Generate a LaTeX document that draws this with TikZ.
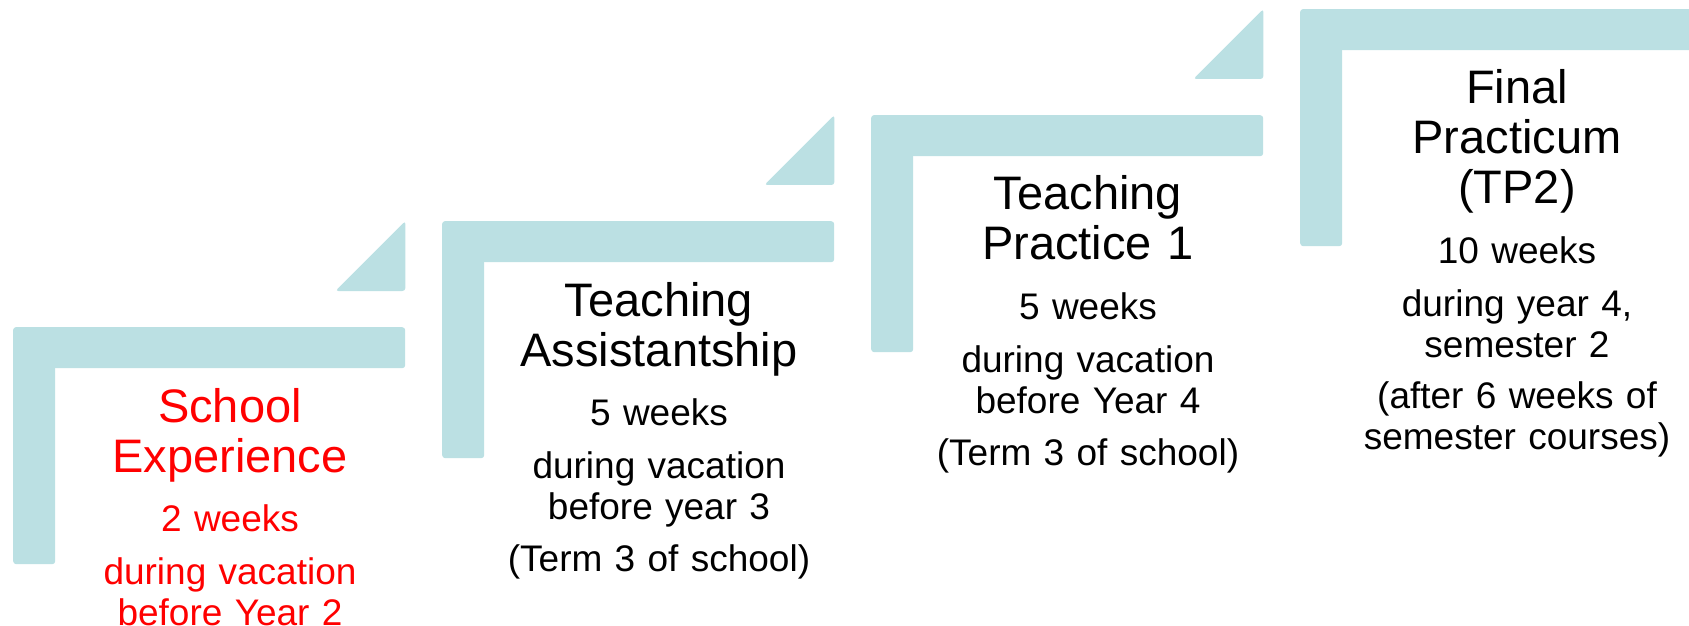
\documentclass[tikz,border=0pt]{standalone}
\usepackage{fontspec}
\setmainfont{Liberation Sans}
\usepackage{tikz}
\definecolor{steplight}{RGB}{187,224,227}

\begin{document}
\begin{tikzpicture}
			[x=1pt, y=1pt, inner sep=0pt,
			topbar/.style	= {fill=steplight, rounded corners=3pt, anchor=north west, minimum width=392pt, minimum height=41pt},
			sidebar/.style	= {fill=steplight, rounded corners=3pt, anchor=north west, minimum width=42pt, minimum height=237pt},
			ramp/.style		= {fill=steplight, rounded corners=3pt},
			heading/.style	= {anchor=base, text width=350pt, align=center, font=\fontsize{47}{50}\selectfont},
			detail/.style	= {anchor=base, text width=350pt, align=center, font=\fontsize{37}{41}\selectfont}]

			\useasboundingbox (0,0) rectangle (1689,625);

			\coordinate (s1) at (13,298);
			\coordinate (s2) at (442,404);
			\coordinate (s3) at (871,510);
			\coordinate (s4) at (1300,616);

			% the four steps
			\node [topbar]	at (s1)	(top1)	{};
			\node [sidebar]	at (s1)	(side1)	{};
			\node [topbar]	at (s2)	(top2)	{};
			\node [sidebar]	at (s2)	(side2)	{};
			\node [topbar]	at (s3)	(top3)	{};
			\node [sidebar]	at (s3)	(side3)	{};
			\node [topbar]	at (s4)	(top4)	{};
			\node [sidebar]	at (s4)	(side4)	{};

			\fill [ramp] ([yshift=36pt]top1.north east) -- ([yshift=106pt]top1.north east) -- ([shift={(-70pt,36pt)}]top1.north east) -- cycle;
			\fill [ramp] ([yshift=36pt]top2.north east) -- ([yshift=106pt]top2.north east) -- ([shift={(-70pt,36pt)}]top2.north east) -- cycle;
			\fill [ramp] ([yshift=36pt]top3.north east) -- ([yshift=106pt]top3.north east) -- ([shift={(-70pt,36pt)}]top3.north east) -- cycle;

			% texts
			\node [heading, red]	at ([shift={(217,-95)}]s1)	(school)		{School\\Experience};
			\node [detail, red]		at ([shift={(217,-204)}]s1)	(schoolwk)		{2 weeks};
			\node [detail, red]		at ([shift={(217,-257)}]s1)	(schoolwhen)	{during vacation\\before Year 2};

			\node [heading]	at ([shift={(217,-95)}]s2)	(assist)		{Teaching\\Assistantship};
			\node [detail]	at ([shift={(217,-204)}]s2)	(assistwk)		{5 weeks};
			\node [detail]	at ([shift={(217,-257)}]s2)	(assistwhen)	{during vacation\\before year 3};
			\node [detail]	at ([shift={(217,-350)}]s2)	(assistterm)	{(Term 3 of school)};

			\node [heading]	at ([shift={(217,-95)}]s3)	(tp1)		{Teaching\\Practice 1};
			\node [detail]	at ([shift={(217,-204)}]s3)	(tp1wk)		{5 weeks};
			\node [detail]	at ([shift={(217,-257)}]s3)	(tp1when)	{during vacation\\before Year 4};
			\node [detail]	at ([shift={(217,-350)}]s3)	(tp1term)	{(Term 3 of school)};

			\node [heading]	at ([shift={(217,-95)}]s4)	(tp2)		{Final\\Practicum\\(TP2)};
			\node [detail]	at ([shift={(217,-254)}]s4)	(tp2wk)		{10 weeks};
			\node [detail]	at ([shift={(217,-307)}]s4)	(tp2when)	{during year 4,\\semester 2};
			\node [detail]	at ([shift={(217,-399)}]s4)	(tp2after)	{(after 6 weeks of\\semester courses)};
\end{tikzpicture}
\end{document}
